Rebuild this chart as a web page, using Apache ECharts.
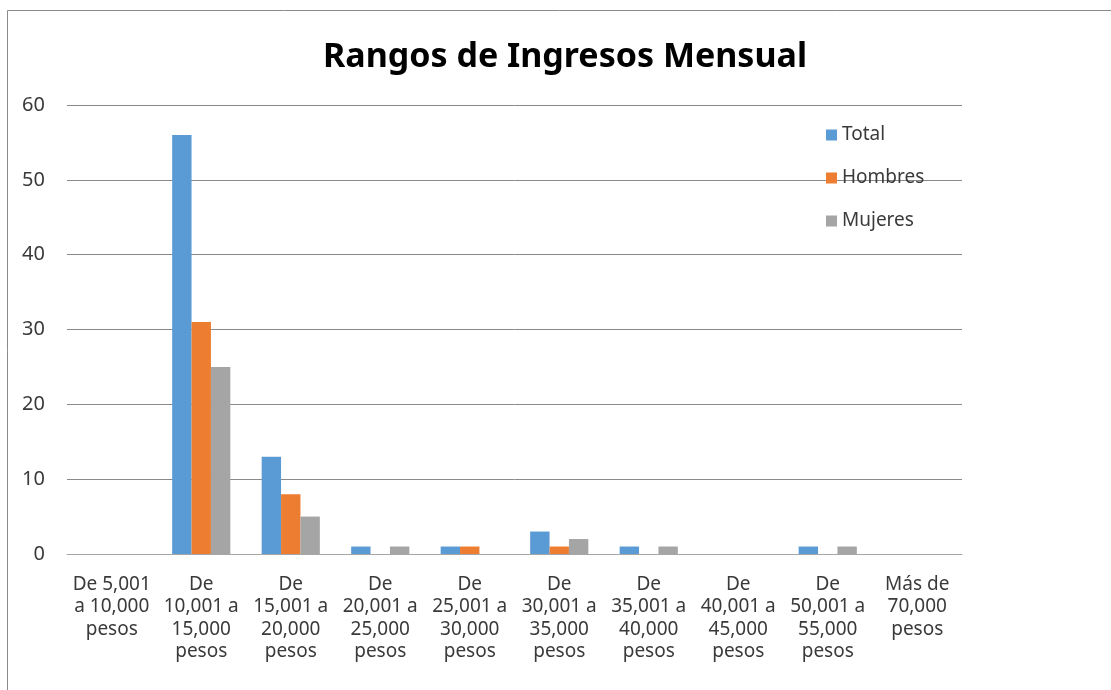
<!DOCTYPE html>
<html>
<head>
<meta charset="utf-8">
<script src="https://cdn.jsdelivr.net/npm/echarts@6/dist/echarts.min.js"></script>
<style>html,body{margin:0;padding:0;background:#fff;}#c{width:1111px;height:690px;}</style>
</head>
<body>
<div id="c"></div>
<script>
const categories = [
  "De 5,001\na 10,000\npesos",
  "De\n10,001 a\n15,000\npesos",
  "De\n15,001 a\n20,000\npesos",
  "De\n20,001 a\n25,000\npesos",
  "De\n25,001 a\n30,000\npesos",
  "De\n30,001 a\n35,000\npesos",
  "De\n35,001 a\n40,000\npesos",
  "De\n40,001 a\n45,000\npesos",
  "De\n50,001 a\n55,000\npesos",
  "Más de\n70,000\npesos"
];
const seriesNames = ["Total", "Hombres", "Mujeres"];
const total   = [0, 56, 13, 1, 1, 3, 1, 0, 1, 0];
const hombres = [0, 31, 8, 0, 1, 1, 0, 0, 0, 0];
const mujeres = [0, 25, 5, 1, 0, 2, 1, 0, 1, 0];
const colors = ["#5B9BD5", "#ED7D31", "#A5A5A5"];
const FONT = "Noto Sans";

const chart = echarts.init(document.getElementById('c'), null, {renderer: 'canvas'});
chart.setOption({
  animation: false,
  backgroundColor: '#fff',
  color: colors,
  textStyle: {fontFamily: FONT},
  graphic: [{
    type: 'rect', silent: true,
    shape: {x: 7.5, y: 10.5, width: 1200, height: 800},
    style: {fill: 'none', stroke: '#8a8a8a', lineWidth: 1}
  }],
  title: {
    text: 'Rangos de Ingresos Mensual',
    left: 560, top: 35, textAlign: 'center',
    textStyle: {fontFamily: FONT, fontWeight: 'bold', fontSize: 34, color: '#000'}
  },
  legend: {
    orient: 'vertical', left: 821, top: 119,
    itemWidth: 11, itemHeight: 11, itemGap: 21,
    icon: 'rect',
    textStyle: {fontFamily: FONT, fontSize: 19, color: '#3a3a3a', lineHeight: 22},
    data: seriesNames
  },
  grid: {left: 67, right: 149, top: 105, bottom: 136, containLabel: false},
  xAxis: {
    type: 'category', data: categories,
    axisTick: {show: false},
    axisLine: {lineStyle: {color: '#a6a6a6', width: 1}},
    axisLabel: {interval: 0, margin: 19, fontFamily: FONT, fontSize: 19, lineHeight: 22.5, color: '#3a3a3a', verticalAlign: 'top'}
  },
  yAxis: {
    type: 'value', min: 0, max: 60, interval: 10,
    axisLine: {show: false}, axisTick: {show: false},
    splitLine: {lineStyle: {color: '#8a8a8a', width: 1}},
    axisLabel: {margin: 22, fontFamily: FONT, fontSize: 20, color: '#3a3a3a'}
  },
  series: [
    {name: seriesNames[0], type: 'bar', data: total, barGap: '0%', barCategoryGap: '35%'},
    {name: seriesNames[1], type: 'bar', data: hombres, barGap: '0%', barCategoryGap: '35%'},
    {name: seriesNames[2], type: 'bar', data: mujeres, barGap: '0%', barCategoryGap: '35%'}
  ]
});
</script>
</body>
</html>
